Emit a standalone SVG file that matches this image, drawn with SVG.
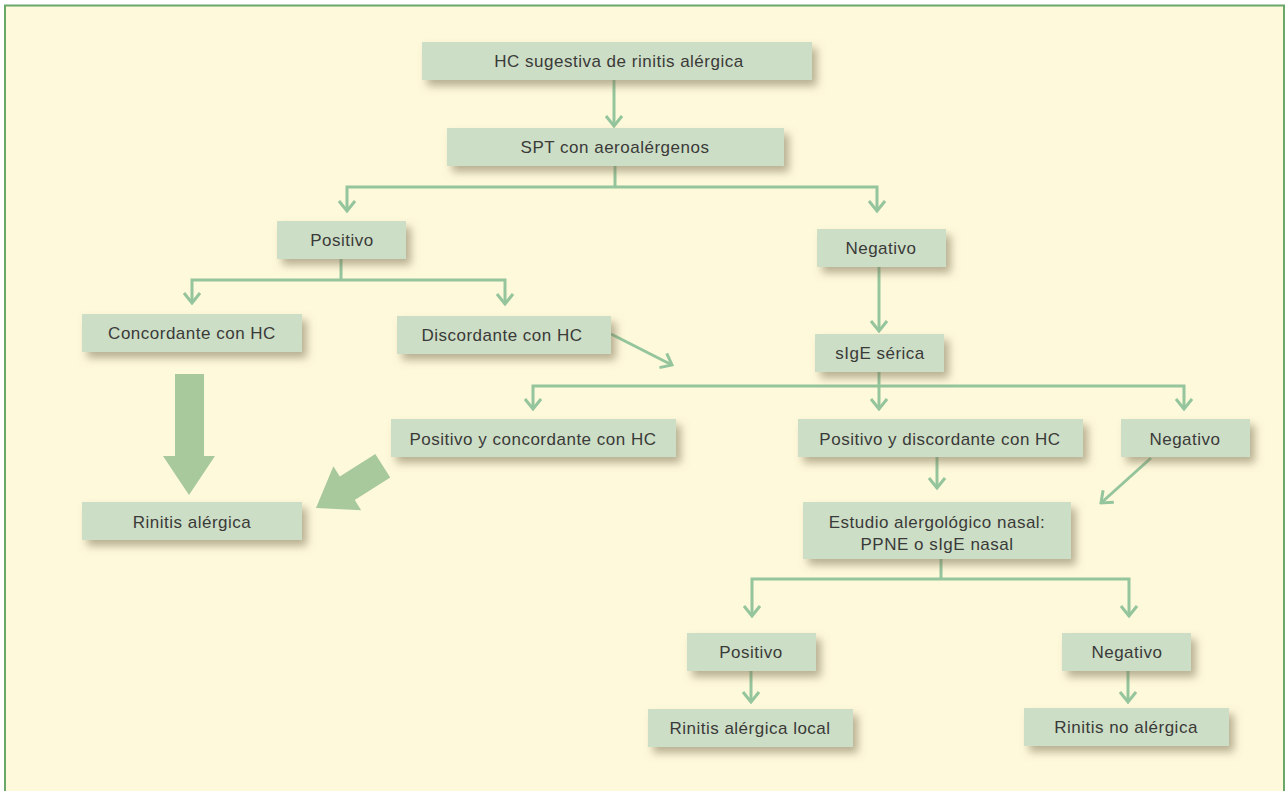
<svg xmlns="http://www.w3.org/2000/svg" width="1287" height="791" viewBox="0 0 1287 791">
<defs>
<style>
.node rect{fill:#cddec7;filter:url(#sh)}
.node text{font-family:"Liberation Sans",Arial,sans-serif;font-size:17px;letter-spacing:0.5px;fill:#3a3a38;text-anchor:middle}
.conn path{fill:none;stroke:#94c59c;stroke-width:3}
.arr{marker-end:url(#chev)}
.big{fill:#a8c99c}
</style>
<filter id="sh" x="-20%" y="-40%" width="150%" height="200%">
<feDropShadow dx="5" dy="6" stdDeviation="4" flood-color="#7d7356" flood-opacity="0.55"/>
</filter>
<marker id="chev" markerUnits="userSpaceOnUse" viewBox="-12 -9 14 18" markerWidth="14" markerHeight="18" refX="0" refY="0" orient="auto">
<path d="M-10,-8 L0,0 L-10,8" fill="none" stroke="#94c59c" stroke-width="3"/>
</marker>
</defs>
<rect x="0" y="0" width="1287" height="791" fill="#ffffff"/>
<rect x="5" y="5.5" width="1279" height="800" fill="#fff9db" stroke="#6aa86a" stroke-width="2"/>

<g id="connectors" class="conn">
<path class="arr" d="M614,80 V126"/>
<path d="M615,166 V187"/>
<path class="arr" d="M615,187 H347 V211"/>
<path class="arr" d="M615,187 H877 V211"/>
<path d="M341,259 V280"/>
<path class="arr" d="M341,280 H192 V303"/>
<path class="arr" d="M341,280 H505 V304"/>
<path class="arr" d="M879,267 V331"/>
<path class="arr" d="M611,334 L672,365"/>
<path d="M879,372 V386"/>
<path class="arr" d="M879,386 H533 V409"/>
<path class="arr" d="M879,386 V409"/>
<path class="arr" d="M879,386 H1184 V409"/>
<path class="arr" d="M937,457 V488"/>
<path class="arr" d="M1151,458 L1101,503"/>
<path d="M941,559 V579"/>
<path class="arr" d="M941,579 H752 V616"/>
<path class="arr" d="M941,579 H1129 V616"/>
<path class="arr" d="M751,671 V702"/>
<path class="arr" d="M1128,671 V702"/>
<polygon class="big" points="175,374 204,374 204,456 215,456 189,495 163,456 175,456"/>
<polygon class="big" transform="translate(316,508) rotate(147.7)" points="-79,-14 -37,-14 -37,-26 0,0 -37,26 -37,14 -79,14"/>
</g>

<g id="n1" class="node"><rect x="422" y="42" width="390" height="38"/><text x="619" y="67">HC sugestiva de rinitis alérgica</text></g>
<g id="n2" class="node"><rect x="447" y="128" width="337" height="38"/><text x="615" y="153">SPT con aeroalérgenos</text></g>
<g id="n3" class="node"><rect x="277" y="221" width="129" height="38"/><text x="342" y="246">Positivo</text></g>
<g id="n4" class="node"><rect x="817" y="229" width="129" height="38"/><text x="881" y="254">Negativo</text></g>
<g id="n5" class="node"><rect x="82" y="314" width="220" height="38"/><text x="192" y="339">Concordante con HC</text></g>
<g id="n6" class="node"><rect x="397" y="316" width="214" height="38"/><text x="502" y="341">Discordante con HC</text></g>
<g id="n7" class="node"><rect x="815" y="334" width="129" height="38"/><text x="880" y="359">sIgE sérica</text></g>
<g id="n8" class="node"><rect x="391" y="419" width="285" height="38"/><text x="533" y="445">Positivo y concordante con HC</text></g>
<g id="n9" class="node"><rect x="798" y="419" width="285" height="38"/><text x="940" y="445">Positivo y discordante con HC</text></g>
<g id="n10" class="node"><rect x="1121" y="419" width="129" height="38"/><text x="1185" y="445">Negativo</text></g>
<g id="n11" class="node"><rect x="82" y="502" width="220" height="38"/><text x="192" y="528">Rinitis alérgica</text></g>
<g id="n12" class="node"><rect x="803" y="502" width="268" height="57"/><text x="937" y="528">Estudio alergológico nasal:</text><text x="937" y="550">PPNE o sIgE nasal</text></g>
<g id="n13" class="node"><rect x="687" y="633" width="129" height="38"/><text x="751" y="658">Positivo</text></g>
<g id="n14" class="node"><rect x="1062" y="633" width="129" height="38"/><text x="1127" y="658">Negativo</text></g>
<g id="n15" class="node"><rect x="648" y="709" width="205" height="38"/><text x="750" y="734">Rinitis alérgica local</text></g>
<g id="n16" class="node"><rect x="1024" y="708" width="205" height="38"/><text x="1126" y="733">Rinitis no alérgica</text></g>
</svg>
